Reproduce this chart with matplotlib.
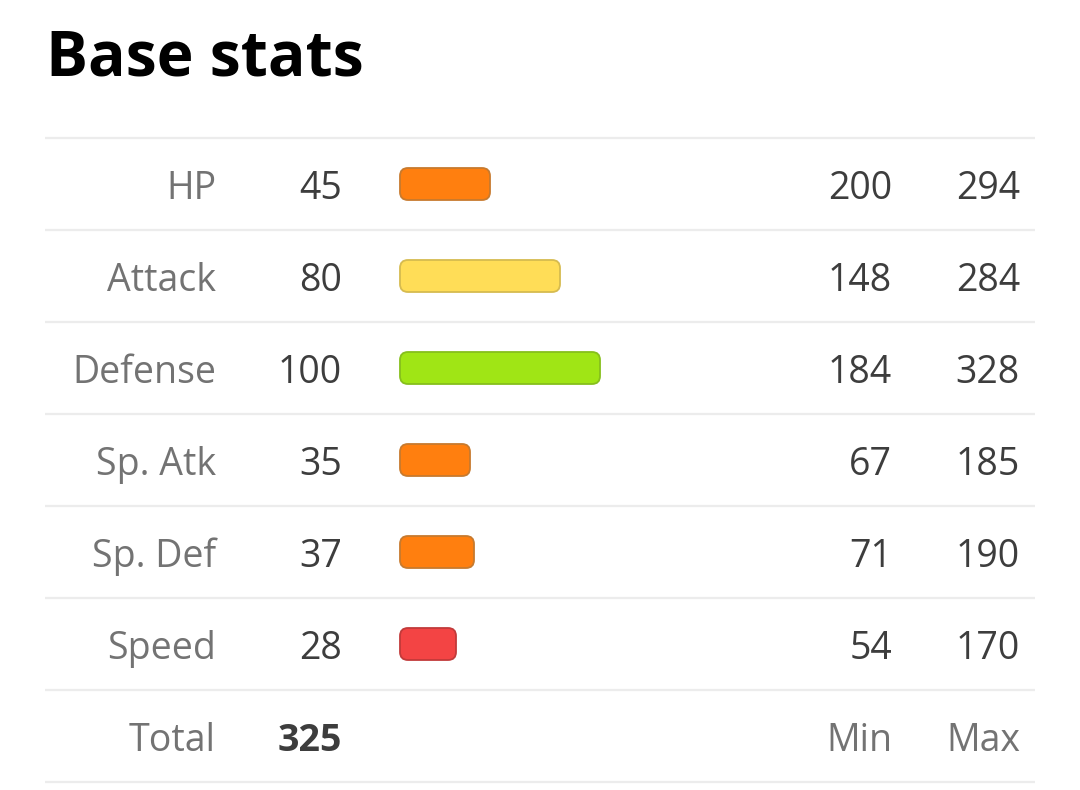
import matplotlib.pyplot as plt
from matplotlib.patches import FancyBboxPatch

# data
stats = ["HP", "Attack", "Defense", "Sp. Atk", "Sp. Def", "Speed"]
base = [45, 80, 100, 35, 37, 28]
mins = [200, 148, 184, 67, 71, 54]
maxs = [294, 284, 328, 185, 190, 170]
total = 325

#colour by value band, like the stat site does
def bar_colour(v):
	if v < 30:
		return "#f34444", "#c23a3a"
	if v < 60:
		return "#ff7f0f", "#c77a2e"
	if v < 90:
		return "#ffdd57", "#d6bb4f"
	return "#a0e515", "#86bf1c"

plt.rcParams['font.family'] = ['Open Sans', 'DejaVu Sans']
fig = plt.figure(figsize=(10.8, 7.9), dpi=100)
ax = fig.add_axes([0, 0, 1, 1])
ax.set_xlim(0, 1080)
ax.set_ylim(790, 0)
ax.axis('off')

ax.text(46, 75, "Base stats", fontsize=45, fontweight='bold', color='black', va='baseline', ha='left')

top = 138
row_h = 92
px_per_point = 2.0
fs = 27
base_off = 61  # baseline below row top

for i in range(len(stats) + 2):
	y = top + i * row_h
	ax.plot([45, 1035], [y, y], color="#ececec", lw=1.6, solid_capstyle='butt')

for i, (name, b, lo, hi) in enumerate(zip(stats, base, mins, maxs)):
	yb = top + i * row_h + base_off
	ax.text(216, yb, name, fontsize=fs, color="#737373", ha='right', va='baseline')
	ax.text(342, yb, str(b), fontsize=fs, color="#3d3d3d", ha='right', va='baseline')
	ax.text(892, yb, str(lo), fontsize=fs, color="#3d3d3d", ha='right', va='baseline')
	ax.text(1020, yb, str(hi), fontsize=fs, color="#3d3d3d", ha='right', va='baseline')
	fc, ec = bar_colour(b)
	w = b * px_per_point
	yc = top + i * row_h + 46
	bar = FancyBboxPatch((400, yc - 16), w, 32, boxstyle="round,pad=0,rounding_size=8",
		facecolor=fc, edgecolor=ec, lw=1.3)
	ax.add_patch(bar)

yb = top + len(stats) * row_h + base_off
ax.text(216, yb, "Total", fontsize=fs, color="#737373", ha='right', va='baseline')
ax.text(342, yb, str(total), fontsize=fs, color="#3d3d3d", ha='right', va='baseline', fontweight='bold')
ax.text(892, yb, "Min", fontsize=fs, color="#737373", ha='right', va='baseline')
ax.text(1020, yb, "Max", fontsize=fs, color="#737373", ha='right', va='baseline')

plt.savefig("out.png", dpi=100)
